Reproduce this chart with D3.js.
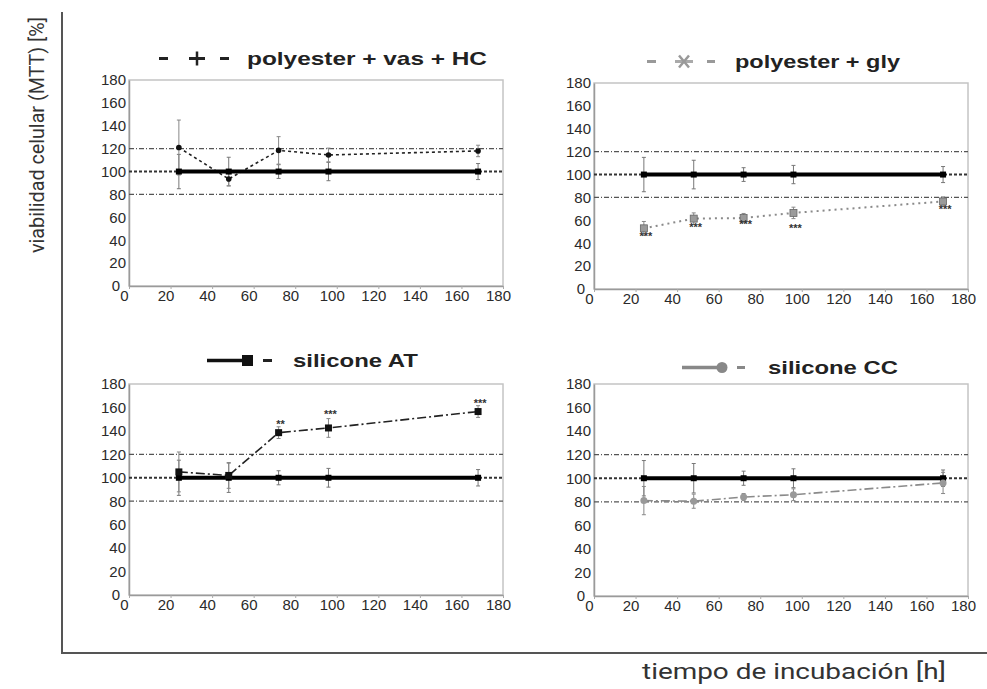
<!DOCTYPE html>
<html><head><meta charset="utf-8">
<script src="https://cdn.jsdelivr.net/npm/d3@7"></script>
<style>body{margin:0;background:#fff}svg{display:block}</style>
</head><body><div id="chart"></div>
<script>
// ---------- data ----------
const times = [24, 48, 72, 96, 168];
const controlValues = [100, 100, 100, 100, 100];
const controlErrors = [15, 12.5, 6, 8, 7];

const vasHCValues = [121, 93.5, 118.5, 114.5, 118];
const vasHCErrors = [24, 6, 12, 6, 5];

const glyValues = [53, 61.5, 62, 66.5, 76.5];
const glyErrors = [6, 5, 4, 5, 4];
const glyStars = ["***", "***", "***", "***", "***"];
const glyStarLevels = [46, 54, 57, 53, 70];

const atValues = [105, 102, 138.5, 142.5, 156.5];
const atErrors = [17, 11, 5, 8, 5];
const atStars = ["", "", "**", "***", "***"];
const atStarLevels = [0, 0, 146, 154, 164];

const ccValues = [81, 80.5, 84, 86, 96];
const ccErrors = [12, 6, 3, 5, 9];

const xTicks = [0, 20, 40, 60, 80, 100, 120, 140, 160, 180];
const yTicks = [0, 20, 40, 60, 80, 100, 120, 140, 160, 180];
const limitLines = [80, 120];
const controlLevel = 100;

const panelTitles = ["polyester + vas + HC", "polyester + gly", "silicone AT", "silicone CC"];
const yAxisTitle = "viabilidad celular (MTT) [%]";
const xAxisTitle = "tiempo de incubación [h]";

// ---------- layout ----------
const W = 987, H = 689;
const titleFont = "Roboto, 'Noto Sans', 'Open Sans', Lato, sans-serif";
const tickFont = "'Liberation Sans', Arial, sans-serif";
const svg = d3.select("#chart").append("svg").attr("width", W).attr("height", H)
  .style("font-family", tickFont);

const panels = [
  {x0:129, x1:503, y0:80, y1:286, values:vasHCValues, errors:vasHCErrors, stars:null, starLevels:null,
   color:"#222", dash:"3,3", width:1.6, marker:"dot", title:panelTitles[0], tx:247, ty:65, tw:240, legend:"plus"},
  {x0:594, x1:968, y0:83, y1:289, values:glyValues, errors:glyErrors, stars:glyStars, starLevels:glyStarLevels,
   color:"#8a8a8a", dash:"2,4", width:2, marker:"square", title:panelTitles[1], tx:735, ty:68, tw:165, legend:"cross"},
  {x0:129, x1:503, y0:384, y1:595, values:atValues, errors:atErrors, stars:atStars, starLevels:atStarLevels,
   color:"#222", dash:"9,3,2,3", width:1.6, marker:"bigsquare", title:panelTitles[2], tx:293, ty:367, tw:125, legend:"lineSquare"},
  {x0:594, x1:968, y0:384, y1:596, values:ccValues, errors:ccErrors, stars:null, starLevels:null,
   color:"#8a8a8a", dash:"9,3,2,3", width:1.6, marker:"circle", title:panelTitles[3], tx:768, ty:374, tw:130, legend:"lineCircle"}
];

// outer axes frame
svg.append("line").attr("x1",62).attr("y1",12).attr("x2",62).attr("y2",654)
  .attr("stroke","#555").attr("stroke-width",2);
svg.append("line").attr("x1",61).attr("y1",653).attr("x2",987).attr("y2",653)
  .attr("stroke","#555").attr("stroke-width",2);

svg.append("text").text(yAxisTitle)
  .attr("transform","translate(44,135) rotate(-90)")
  .attr("text-anchor","middle").style("font-family",titleFont)
  .attr("font-size",21).attr("fill","#333")
  .attr("textLength",236).attr("lengthAdjust","spacingAndGlyphs");
svg.append("text").text(xAxisTitle)
  .attr("x",642).attr("y",679).style("font-family",titleFont)
  .attr("font-size",22).attr("fill","#333")
  .attr("textLength",304).attr("lengthAdjust","spacingAndGlyphs");

panels.forEach(p => {
  const x = d3.scaleLinear().domain([0,180]).range([p.x0, p.x1]);
  const y = d3.scaleLinear().domain([0,180]).range([p.y1, p.y0]);
  const g = svg.append("g");

  // frame
  g.append("rect").attr("x",p.x0).attr("y",p.y0).attr("width",p.x1-p.x0).attr("height",p.y1-p.y0)
    .attr("fill","none").attr("stroke","#c4c4c4").attr("stroke-width",1.5);

  // axes
  const xa = g.append("g").attr("transform",`translate(0,${p.y1})`)
    .call(d3.axisBottom(x).tickValues(xTicks).tickSize(3).tickSizeOuter(0));
  xa.select(".domain").attr("stroke","#9a9a9a").attr("stroke-width",1.5);
  xa.selectAll(".tick line").attr("stroke","#aaa");
  xa.selectAll(".tick text").attr("font-size",15).attr("fill","#2a2a2a")
    .attr("font-family",tickFont)
    .attr("dx",-5).attr("dy","0.8em").attr("y",3);

  const ya = g.append("g").attr("transform",`translate(${p.x0},0)`)
    .call(d3.axisLeft(y).tickValues(yTicks).tickSize(0).tickPadding(3));
  ya.select(".domain").attr("stroke","#9a9a9a").attr("stroke-width",1.5);
  ya.selectAll(".tick text").attr("font-size",15).attr("fill","#2a2a2a")
    .attr("font-family",tickFont)
    .attr("dx", d => d === 0 ? -6 : 0);

  // limit lines 80 / 120
  limitLines.forEach(v => {
    g.append("line").attr("x1",p.x0).attr("x2",p.x1).attr("y1",y(v)).attr("y2",y(v))
      .attr("stroke","#555").attr("stroke-width",1.2).attr("stroke-dasharray","5,2,1,2");
  });
  // 100 dashed full width
  g.append("line").attr("x1",p.x0).attr("x2",p.x1).attr("y1",y(controlLevel)).attr("y2",y(controlLevel))
    .attr("stroke","#333").attr("stroke-width",2).attr("stroke-dasharray","3,2");

  // control error bars
  times.forEach((t,i) => {
    const cx = x(t), lo = y(controlValues[i]-controlErrors[i]), hi = y(controlValues[i]+controlErrors[i]);
    g.append("line").attr("x1",cx).attr("x2",cx).attr("y1",lo).attr("y2",hi).attr("stroke","#777").attr("stroke-width",1);
    [lo,hi].forEach(yy => g.append("line").attr("x1",cx-2).attr("x2",cx+2).attr("y1",yy).attr("y2",yy).attr("stroke","#777"));
  });

  // test error bars
  times.forEach((t,i) => {
    const cx = x(t), lo = y(p.values[i]-p.errors[i]), hi = y(p.values[i]+p.errors[i]);
    g.append("line").attr("x1",cx).attr("x2",cx).attr("y1",lo).attr("y2",hi).attr("stroke","#888").attr("stroke-width",1);
    [lo,hi].forEach(yy => g.append("line").attr("x1",cx-2).attr("x2",cx+2).attr("y1",yy).attr("y2",yy).attr("stroke","#888"));
  });

  // test line
  const line = d3.line().x((d,i)=>x(times[i])).y(d=>y(d));
  g.append("path").datum(p.values).attr("d",line).attr("fill","none")
    .attr("stroke",p.color).attr("stroke-width",p.width).attr("stroke-dasharray",p.dash);

  // control thick line
  g.append("path").datum(controlValues).attr("d",line).attr("fill","none")
    .attr("stroke","#000").attr("stroke-width",4);
  times.forEach((t,i)=>{
    g.append("rect").attr("x",x(t)-3).attr("y",y(controlValues[i])-3).attr("width",6).attr("height",6).attr("fill","#000");
  });

  // test markers
  p.values.forEach((v,i)=>{
    const cx = x(times[i]), cy = y(v);
    if (p.marker === "dot") g.append("circle").attr("cx",cx).attr("cy",cy).attr("r",2.8).attr("fill","#111");
    else if (p.marker === "square") g.append("rect").attr("x",cx-3.5).attr("y",cy-3.5).attr("width",7).attr("height",7)
      .attr("fill","#9a9a9a").attr("stroke","#666").attr("stroke-width",0.8);
    else if (p.marker === "bigsquare") g.append("rect").attr("x",cx-3.5).attr("y",cy-3.5).attr("width",7).attr("height",7).attr("fill","#111");
    else g.append("circle").attr("cx",cx).attr("cy",cy).attr("r",3.5).attr("fill","#999");
  });

  // significance stars
  if (p.stars) {
    p.stars.forEach((s,i)=>{
      if (!s) return;
      g.append("text").text(s).attr("x",x(times[i])+2).attr("y",y(p.starLevels[i])+4)
        .attr("text-anchor","middle").attr("font-size",11).attr("font-weight","bold").attr("fill","#333");
    });
  }

  // legend title
  g.append("text").text(p.title).attr("x",p.tx).attr("y",p.ty)
    .attr("font-size",19).attr("font-weight","bold").attr("fill","#222")
    .attr("textLength",p.tw).attr("lengthAdjust","spacingAndGlyphs");

  // legend symbols
  const ly = p.ty - 6.5;
  const dash = (x1,x2,c) => g.append("line").attr("x1",x1).attr("x2",x2).attr("y1",ly).attr("y2",ly).attr("stroke",c).attr("stroke-width",3);
  if (p.legend === "plus") {
    dash(159,168,"#222"); dash(189,205,"#222");
    g.append("line").attr("x1",197).attr("x2",197).attr("y1",ly-7).attr("y2",ly+7).attr("stroke","#222").attr("stroke-width",2.5);
    dash(220,229,"#222");
  } else if (p.legend === "cross") {
    dash(647,656,"#999"); dash(675,693,"#aaa");
    g.append("line").attr("x1",679).attr("x2",689).attr("y1",ly-6).attr("y2",ly+6).attr("stroke","#999").attr("stroke-width",2.5);
    g.append("line").attr("x1",679).attr("x2",689).attr("y1",ly+6).attr("y2",ly-6).attr("stroke","#999").attr("stroke-width",2.5);
    dash(707,715,"#999");
  } else if (p.legend === "lineSquare") {
    dash(207,244,"#111").attr("stroke-width",3.5);
    g.append("rect").attr("x",242).attr("y",ly-5.5).attr("width",11).attr("height",11).attr("fill","#111");
    dash(263,272,"#222");
  } else {
    dash(682,720,"#888").attr("stroke-width",3.5);
    g.append("circle").attr("cx",722).attr("cy",ly).attr("r",5.5).attr("fill","#888");
    dash(737,745,"#888");
  }
});
</script></body></html>
